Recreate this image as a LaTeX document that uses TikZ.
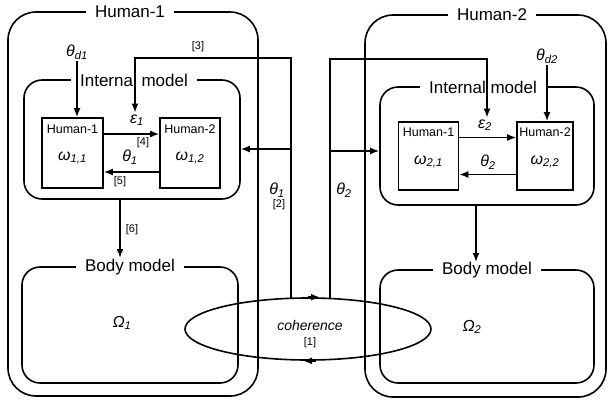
\documentclass[tikz,border=0pt]{standalone}
\usepackage{fontspec}
\setmainfont{Liberation Sans}
\usetikzlibrary{arrows.meta,shapes.geometric}
\begin{document}
\begin{tikzpicture}[x=1pt,y=-1pt,line width=1.6pt,
  outer/.style={draw, rounded corners=28pt, inner sep=0pt},
  model/.style={draw, rounded corners=18pt, inner sep=0pt},
  sbox/.style={draw, inner sep=0pt},
  ttl/.style={fill=white, font=\fontsize{17}{18}\selectfont, inner xsep=9pt, inner ysep=1pt},
  stl/.style={font=\fontsize{12.5}{13}\selectfont, inner sep=0pt},
  gk/.style={font=\fontsize{16}{17}\selectfont\itshape, inner sep=1pt},
  refl/.style={font=\fontsize{11}{12}\selectfont, inner sep=1pt},
  arr/.style={-{Latex[length=9pt,width=7pt]}}]
\useasboundingbox (0,0) rectangle (609,400);
% outer boxes
\node[outer, minimum width=250pt, minimum height=384pt] (H1) at (133,204) {};
\node[outer, minimum width=241pt, minimum height=382pt] (H2) at (485.5,206) {};
% models
\node[model, minimum width=216pt, minimum height=119pt] (IM1) at (132,139.5) {};
\node[model, minimum width=214pt, minimum height=118pt] (IM2) at (487,146) {};
\node[model, minimum width=216pt, minimum height=116pt] (BM1) at (130,325) {};
\node[model, minimum width=214pt, minimum height=113pt] (BM2) at (487,326.5) {};
% titles
\node[ttl] (tH1) at (130,12) {Human-1};
\node[ttl] (tH2) at (492,15) {Human-2};
\node[ttl] (tIM1) at (134,80) {Internal model};
\node[ttl] (tIM2) at (483,87) {Internal model};
\node[ttl] (tBM1) at (130,267) {Body model};
\node[ttl] (tBM2) at (487,270) {Body model};
% small boxes
\node[sbox, minimum width=61pt, minimum height=70pt] (h11) at (72.5,153) {};
\node[sbox, minimum width=60pt, minimum height=70pt] (h12) at (190,153) {};
\node[sbox, minimum width=60pt, minimum height=68pt] (h21) at (428.5,156) {};
\node[sbox, minimum width=56pt, minimum height=68pt] (h22) at (545,156) {};
\node[stl] (h11t) at (72.5,129) {Human-1};
\node[stl] (h12t) at (190,129) {Human-2};
\node[stl] (h21t) at (428.5,132) {Human-1};
\node[stl] (h22t) at (545,132) {Human-2};
\node[gk] (w11) at (72.5,158) {ω\textsubscript{1,1}};
\node[gk] (w12) at (190,158) {ω\textsubscript{1,2}};
\node[gk] (w21) at (428.5,162) {ω\textsubscript{2,1}};
\node[gk] (w22) at (545,162) {ω\textsubscript{2,2}};
% labels
\node[gk] (eps1) at (137,120) {ε\textsubscript{1}};
\node[refl] (r4) at (143,143) {[4]};
\node[gk] (th1) at (130,157) {θ\textsubscript{1}};
\node[refl] (r5) at (120,182) {[5]};
\node[gk] (thd1) at (77,52) {θ\textsubscript{d1}};
\node[refl] (r3) at (198,47) {[3]};
\node[refl] (r6) at (132,230) {[6]};
\node[gk] (thm1) at (277,190) {θ\textsubscript{1}};
\node[refl] (r2) at (279,205) {[2]};
\node[gk] (thm2) at (344,190) {θ\textsubscript{2}};
\node[gk] (Om1) at (122,323) {Ω\textsubscript{1}};
\node[gk] (Om2) at (472,327) {Ω\textsubscript{2}};
\node[gk] (eps2) at (485,125) {ε\textsubscript{2}};
\node[gk] (th2) at (488,162) {θ\textsubscript{2}};
\node[gk] (thd2) at (547,56) {θ\textsubscript{d2}};
% coherence ellipse
\node[draw, ellipse, minimum width=246pt, minimum height=62pt, inner sep=0pt] (coh) at (308,329) {};
\node[font=\fontsize{14}{15}\selectfont\itshape, inner sep=0pt] (cohtxt) at (310,325) {coherence};
\node[refl] (r1) at (310,343) {[1]};
\draw[arr] ([xshift=0pt]coh.north) -- ([xshift=12pt]coh.north);
\draw[arr] ([xshift=8pt]coh.south) -- ([xshift=-5pt]coh.south);
% coordinates
\coordinate (jl) at (291,298.5);
\coordinate (k3) at (135,58);
\coordinate (bl) at (291,149);
\coordinate (jr) at (330,298.8);
\coordinate (k4) at (487,59);
\coordinate (br) at (330,151);
\coordinate (a6) at (120,258);
\coordinate (a7) at (476,262);
% connectors
\draw[arr] (thd1.south) -- (thd1.south |- h11.north);
\draw[arr] (thd2.south) -- (thd2.south |- h22.north);
\draw[arr] ([yshift=19pt]h11.east) -- ([yshift=19pt]h11.east -| h12.west);
\draw[arr] ([yshift=-19pt]h12.west) -- ([yshift=-19pt]h12.west -| h11.east);
\draw[arr] ([yshift=18.5pt]h21.east) -- ([yshift=18.5pt]h21.east -| h22.west);
\draw[arr] ([yshift=-18.5pt]h22.west) -- ([yshift=-18.5pt]h22.west -| h21.east);
\draw[arr] (jl) |- (k3) -- (k3 |- eps1.north);
\draw[arr] (bl) -- (bl -| IM1.east);
\draw[arr] (jr) |- (k4) -- (k4 |- eps2.north);
\draw[arr] (br) -- (br -| IM2.west);
\draw[arr] (IM1.south -| a6) -- (a6);
\draw[arr] (IM2.south -| a7) -- (a7);
\end{tikzpicture}
\end{document}
